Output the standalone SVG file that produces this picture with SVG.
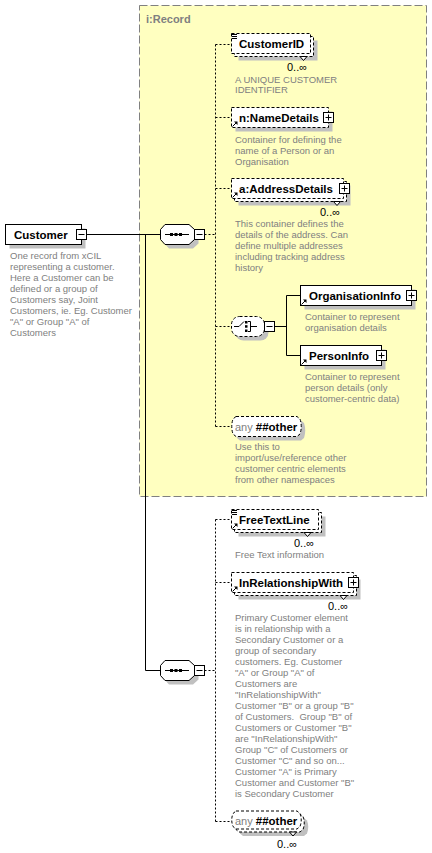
<svg xmlns="http://www.w3.org/2000/svg" xmlns:xlink="http://www.w3.org/1999/xlink" width="432" height="853" viewBox="0 0 432 853">
<style>
.box{fill:#fff;stroke:#000;stroke-width:1}
.opt{fill:#fff;stroke:#000;stroke-width:1;stroke-dasharray:3,2}
.sh{fill:#c0c0c0;stroke:none}
.lbl{font-family:"Liberation Sans",Arial,sans-serif;font-size:11.5px;font-weight:bold;fill:#000}
.desc{font-family:"Liberation Sans",Arial,sans-serif;font-size:9.5px;fill:#808080}
.occ{font-family:"Liberation Sans",Arial,sans-serif;font-size:11px;fill:#000}
.any{font-family:"Liberation Sans",Arial,sans-serif;font-size:11px;fill:#808080}
.solid{fill:none;stroke:#000;stroke-width:1}
.dash{fill:none;stroke:#000;stroke-width:1;stroke-dasharray:2,2}
</style>
<defs>
<g id="plus"><rect x="0.5" y="0.5" width="10" height="10" fill="#fff" stroke="#000"/><path d="M2.5,5.5H8.5M5.5,2.5V8.5" stroke="#000" fill="none"/></g>
<g id="minus"><rect x="0.5" y="0.5" width="10" height="10" fill="#fff" stroke="#000"/><path d="M2.5,5.5H8.5" stroke="#000" fill="none"/></g>
<g id="ref"><path d="M0.5,5.5L4,2" stroke="#000" fill="none"/><polygon points="2,0.5 5.5,0.5 5.5,4" fill="#000"/></g>
<g id="simple"><path d="M0,0.5H5M0,2.5H5M0,4.5H5" stroke="#000" fill="none"/></g>
<g id="chev"><polygon points="0,0 3.5,4 7,0" fill="#fff" stroke="#000"/></g>
</defs>

<g id="group-record">
<rect x="139.5" y="5.5" width="287" height="491" fill="#ffffc0" stroke="#808080" stroke-width="1" stroke-dasharray="8,3"/>
<text x="146" y="23" font-family="Liberation Sans,Arial,sans-serif" font-size="11px" font-weight="bold" fill="#808080">i:Record</text>
</g>

<g id="connectors">
<path class="solid" d="M86.5,234.5H160.5M145.5,234.5V670.5H160.5"/>
<path class="dash" d="M204.5,234.5H215.5M215.5,44.5V426.5M215.5,44.5H231.5M215.5,117.5H231.5M215.5,188.5H231.5M215.5,326.5H231.5M215.5,426.5H231.5"/>
<path class="solid" d="M274.5,326.5H286.5M286.5,295.5V355.5M286.5,295.5H300.5M286.5,355.5H300.5"/>
<path class="dash" d="M204.5,670.5H215.5M215.5,519.5V821.5M215.5,519.5H231.5M215.5,582.5H231.5M215.5,821.5H231.5"/>
</g>

<g id="node-customer">
<rect class="sh" x="9.5" y="228.5" width="76" height="20"/>
<rect class="box" x="5.5" y="224.5" width="76" height="20"/>
<text class="lbl" x="14" y="238.5">Customer</text>
<use xlink:href="#minus" x="76" y="229"/>
<text class="desc"><tspan x="10" y="259">One record from xCIL</tspan><tspan x="10" y="270">representing a customer.</tspan><tspan x="10" y="281">Here a Customer can be</tspan><tspan x="10" y="292">defined or a group of</tspan><tspan x="10" y="303">Customers say, Joint</tspan><tspan x="10" y="314">Customers, ie. Eg. Customer</tspan><tspan x="10" y="325">"A" or Group "A" of</tspan><tspan x="10" y="336">Customers</tspan></text>
</g>

<g id="node-sequence1">
<polygon class="sh" points="169,228.5 193,228.5 198.5,233.5 198.5,243.5 193,248.5 169,248.5 164.5,243.5 164.5,233.5"/>
<polygon class="box" points="165,224.5 189,224.5 194.5,229.5 194.5,239.5 189,244.5 165,244.5 160.5,239.5 160.5,229.5"/>
<path d="M165,234.5H189" stroke="#000"/>
<rect x="170" y="233" width="3" height="3" fill="#000"/><rect x="174.5" y="233" width="3" height="3" fill="#000"/><rect x="179" y="233" width="3" height="3" fill="#000"/>
<use xlink:href="#minus" x="194" y="229"/>
</g>

<g id="node-customerid">
<rect class="sh" x="238.5" y="40.5" width="79" height="20"/>
<rect class="opt" x="234.5" y="36.5" width="79" height="20"/>
<rect class="opt" x="231.5" y="33.5" width="79" height="20"/>
<use xlink:href="#simple" x="232" y="34"/>
<use xlink:href="#chev" x="300" y="56.5"/>
<text class="lbl" x="239" y="48">CustomerID</text>
<text class="occ" x="287" y="70.5">0..∞</text>
<text class="desc"><tspan x="235" y="82.5">A UNIQUE CUSTOMER</tspan><tspan x="235" y="93">IDENTIFIER</tspan></text>
</g>

<g id="node-namedetails">
<rect class="sh" x="235.5" y="111.5" width="97" height="20"/>
<rect class="opt" x="231.5" y="107.5" width="97" height="20"/>
<use xlink:href="#ref" x="232" y="121"/>
<text class="lbl" x="239" y="121.5">n:NameDetails</text>
<use xlink:href="#plus" x="323" y="112"/>
<text class="desc"><tspan x="235" y="142.5">Container for defining the</tspan><tspan x="235" y="153.5">name of a Person or an</tspan><tspan x="235" y="164.5">Organisation</tspan></text>
</g>

<g id="node-addressdetails">
<rect class="sh" x="238.5" y="185.5" width="112" height="20"/>
<rect class="opt" x="234.5" y="181.5" width="112" height="20"/>
<rect class="opt" x="231.5" y="178.5" width="112" height="20"/>
<use xlink:href="#ref" x="232" y="192"/>
<use xlink:href="#chev" x="333.5" y="201.5"/>
<text class="lbl" x="239" y="192.5">a:AddressDetails</text>
<use xlink:href="#plus" x="339" y="183"/>
<text class="occ" x="320" y="216">0..∞</text>
<text class="desc"><tspan x="235" y="227">This container defines the</tspan><tspan x="235" y="238">details of the address. Can</tspan><tspan x="235" y="249">define multiple addresses</tspan><tspan x="235" y="260">including tracking address</tspan><tspan x="235" y="271">history</tspan></text>
</g>

<g id="node-choice">
<rect class="sh" x="235.5" y="320.5" width="33" height="20" rx="8"/>
<rect class="opt" x="231.5" y="316.5" width="33" height="20" rx="8"/>
<path d="M234,326.5H239L244,321.5M250.5,321.5V331.5M248,321.5H250.5M248,331.5H250.5M250.5,326.5H257" stroke="#000" fill="none"/>
<rect x="245" y="321" width="2.5" height="2.5" fill="#000"/><rect x="245" y="325.2" width="2.5" height="2.5" fill="#000"/><rect x="245" y="329.5" width="2.5" height="2.5" fill="#000"/>
<use xlink:href="#minus" x="264" y="321"/>
</g>

<g id="node-organisationinfo">
<rect class="sh" x="304.5" y="289.5" width="111" height="20"/>
<rect class="box" x="300.5" y="285.5" width="111" height="20"/>
<use xlink:href="#ref" x="301" y="299"/>
<text class="lbl" x="309" y="299.5">OrganisationInfo</text>
<use xlink:href="#plus" x="406" y="290"/>
<text class="desc"><tspan x="305" y="320">Container to represent</tspan><tspan x="305" y="331">organisation details</tspan></text>
</g>

<g id="node-personinfo">
<rect class="sh" x="304.5" y="349.5" width="81" height="20"/>
<rect class="box" x="300.5" y="345.5" width="81" height="20"/>
<use xlink:href="#ref" x="301" y="359"/>
<text class="lbl" x="309" y="359.5">PersonInfo</text>
<use xlink:href="#plus" x="376" y="350"/>
<text class="desc"><tspan x="305" y="380">Container to represent</tspan><tspan x="305" y="391">person details (only</tspan><tspan x="305" y="402">customer-centric data)</tspan></text>
</g>

<g id="node-any1">
<path class="sh" d="M240,420.5H301L304,423Q306.5,430.5 304,438L301,440.5H240L237,438Q234.5,430.5 237,423Z"/>
<path class="opt" d="M236,416.5H297L300,419Q302.5,426.5 300,434L297,436.5H236L233,434Q230.5,426.5 233,419Z"/>
<text x="235" y="430.5"><tspan class="any">any </tspan><tspan class="lbl" font-size="11px">##other</tspan></text>
<text class="desc"><tspan x="235" y="449.5">Use this to</tspan><tspan x="235" y="461">import/use/reference other</tspan><tspan x="235" y="472">customer centric elements</tspan><tspan x="235" y="483">from other namespaces</tspan></text>
</g>

<g id="node-sequence2">
<polygon class="sh" points="169,664.5 193,664.5 198.5,669.5 198.5,679.5 193,684.5 169,684.5 164.5,679.5 164.5,669.5"/>
<polygon class="box" points="165,660.5 189,660.5 194.5,665.5 194.5,675.5 189,680.5 165,680.5 160.5,675.5 160.5,665.5"/>
<path d="M165,670.5H189" stroke="#000"/>
<rect x="170" y="669" width="3" height="3" fill="#000"/><rect x="174.5" y="669" width="3" height="3" fill="#000"/><rect x="179" y="669" width="3" height="3" fill="#000"/>
<use xlink:href="#minus" x="194" y="665"/>
</g>

<g id="node-freetextline">
<rect class="sh" x="238.5" y="516.5" width="87" height="20"/>
<rect class="opt" x="234.5" y="512.5" width="87" height="20"/>
<rect class="opt" x="231.5" y="509.5" width="87" height="20"/>
<use xlink:href="#simple" x="232" y="510"/>
<use xlink:href="#ref" x="232" y="523"/>
<use xlink:href="#chev" x="304" y="532.5"/>
<text class="lbl" x="239" y="523.5">FreeTextLine</text>
<text class="occ" x="294" y="547">0..∞</text>
<text class="desc" x="235" y="558">Free Text information</text>
</g>

<g id="node-inrelationshipwith">
<rect class="sh" x="238.5" y="579.5" width="122" height="20"/>
<rect class="opt" x="234.5" y="575.5" width="122" height="20"/>
<rect class="opt" x="231.5" y="572.5" width="122" height="20"/>
<use xlink:href="#ref" x="232" y="586"/>
<use xlink:href="#chev" x="340" y="595.5"/>
<text class="lbl" x="239" y="586.5">InRelationshipWith</text>
<use xlink:href="#plus" x="348" y="577"/>
<text class="occ" x="328" y="610">0..∞</text>
<text class="desc"><tspan x="235" y="621">Primary Customer element</tspan><tspan x="235" y="632">is in relationship with a</tspan><tspan x="235" y="643">Secondary Customer or a</tspan><tspan x="235" y="654">group of secondary</tspan><tspan x="235" y="665">customers. Eg. Customer</tspan><tspan x="235" y="676">"A" or Group "A" of</tspan><tspan x="235" y="687">Customers are</tspan><tspan x="235" y="698">"InRelationshipWith"</tspan><tspan x="235" y="709">Customer "B" or a group "B"</tspan><tspan x="235" y="720">of Customers.&#160; Group "B" of</tspan><tspan x="235" y="731">Customers or Customer "B"</tspan><tspan x="235" y="742">are "InRelationshipWith"</tspan><tspan x="235" y="753">Group "C" of Customers or</tspan><tspan x="235" y="764">Customer "C" and so on...</tspan><tspan x="235" y="775">Customer "A" is Primary</tspan><tspan x="235" y="786">Customer and Customer "B"</tspan><tspan x="235" y="797">is Secondary Customer</tspan></text>
</g>

<g id="node-any2">
<path class="sh" d="M243,818H304L307,820.5Q309.5,827 307,833.5L304,836H243L240,833.5Q237.5,827 240,820.5Z"/>
<path class="opt" d="M239,814H300L303,816.5Q305.5,823 303,829.5L300,832H239L236,829.5Q233.5,823 236,816.5Z"/>
<path class="opt" d="M236,811H297L300,813.5Q302.5,820 300,826.5L297,829H236L233,826.5Q230.5,820 233,813.5Z"/>
<use xlink:href="#chev" x="289.5" y="832"/>
<text x="235" y="825"><tspan class="any">any </tspan><tspan class="lbl" font-size="11px">##other</tspan></text>
<text class="occ" x="277" y="848">0..∞</text>
</g>
</svg>
